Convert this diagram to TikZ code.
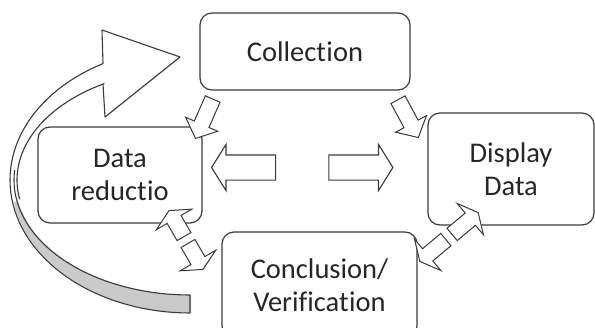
\documentclass[tikz,border=0pt]{standalone}
\usepackage{fontspec}
\setmainfont{Carlito}[RawFeature={-liga;-clig;-calt;-dlig;-rlig}]
\usetikzlibrary{shapes.arrows}
\definecolor{edge}{HTML}{3A3A3A}
\definecolor{band}{HTML}{CACACA}
\begin{document}
\begin{tikzpicture}[x=1pt,y=-1pt,
  box/.style={draw=edge, line width=1.2pt, rounded corners=12pt, align=center,
    font=\fontsize{28.5}{33}\selectfont, text=black!85},
  fatarr/.style={single arrow, draw=edge, fill=white, line width=1.1pt, inner xsep=0pt,
    inner ysep=12pt, single arrow head extend=10.5pt, single arrow tip angle=116, minimum height=64pt},
  slimarr/.style={single arrow, draw=edge, fill=white, line width=1pt, inner xsep=0pt,
    inner ysep=7.5pt, single arrow head extend=9.5pt, single arrow tip angle=97, minimum height=43pt},
  pairarr/.style={slimarr, single arrow head extend=12.5pt, single arrow tip angle=127, minimum height=#1}]
\useasboundingbox (0,0) rectangle (595,327);

\node[box, minimum width=210pt, minimum height=77pt] (coll) at (305,51.5) {Collect\kern0.5pt ion};
\node[box, minimum width=164pt, minimum height=96pt] (red) at (120,175) {Data\\reduct\kern0.5pt io};
\node[box, minimum width=166pt, minimum height=112pt] (disp) at (511,169) {Display\\Data};
\node[box, minimum width=195pt, minimum height=106pt] (concl) at (319.5,285) {Conclusion/\\Verificat\kern0.5pt ion};

% back to the start
\fill[band] plot[domain=90:185, samples=40] ({191+180*cos(\x)},{180+133*sin(\x)})
  -- plot[domain=185:90, samples=40] ({191+176*cos(\x)},{180+115*sin(\x)}) -- cycle;
\fill[white] (103,63.6) -- (102,30) -- (180,57) -- (105,117) -- (103,84)
  -- plot[domain=240.2:170, samples=40] ({190+173*cos(\x)},{180+111*sin(\x)})
  -- plot[domain=170:241.1, samples=40] ({190+180*cos(\x)},{180+133*sin(\x)}) -- cycle;
\draw[edge, line width=1.1pt, line join=round]
  plot[domain=90:241.1, samples=60] ({190+180*cos(\x)},{180+133*sin(\x)})
  -- (102,30) -- (180,57) -- (105,117) -- (103,84)
  -- plot[domain=240.2:170, samples=40] ({190+173*cos(\x)},{180+111*sin(\x)});
\draw[edge, line width=1.1pt, line join=round]
  plot[domain=185:90, samples=40] ({190+176*cos(\x)},{180+115*sin(\x)}) -- (190,313);

\node[fatarr, rotate=180] (lft) at (247.5,167.5) {};
\node[fatarr] (rgt) at (357,167.5) {};
\node[slimarr, rotate=-113.6] (cr) at (205.5,115.5) {};
\node[slimarr, rotate=-61.7] (cd) at (406.5,115.5) {};
\node[pairarr=30pt, rotate=120] (rc1) at (177.5,225.3) {};
\node[pairarr=30pt, rotate=-60] (rc2) at (194.5,254.7) {};
\node[pairarr=34pt, rotate=40] (cv1) at (463.6,224.8) {};
\node[pairarr=34pt, rotate=220] (cv2) at (434.4,249.2) {};
\end{tikzpicture}
\end{document}
